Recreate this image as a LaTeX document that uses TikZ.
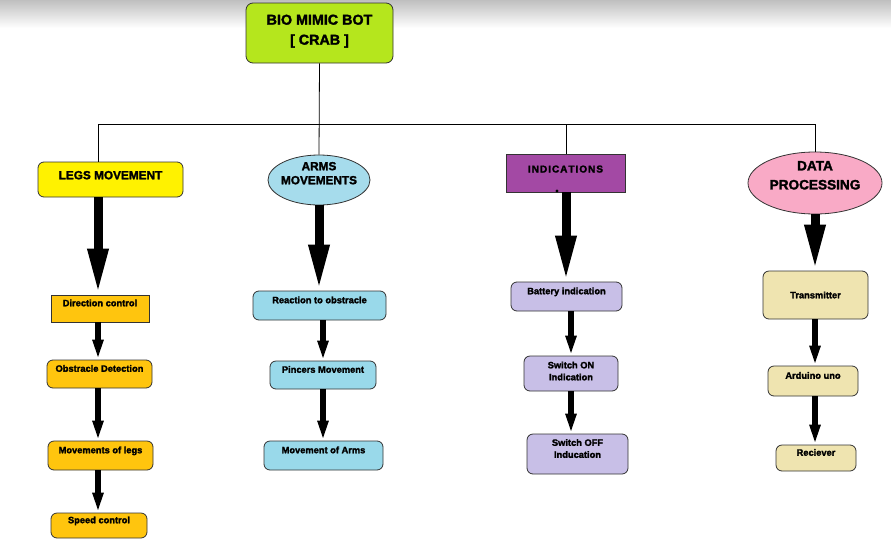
\documentclass[tikz,border=0pt]{standalone}
\usepackage{fontspec}
\setmainfont{Liberation Sans}[BoldFeatures={FakeBold=2}]
\usepackage{xcolor}
\usetikzlibrary{shapes.geometric, arrows.meta}

\definecolor{limebox}{HTML}{B5E61D}
\definecolor{legyellow}{HTML}{FFF200}
\definecolor{armblue}{HTML}{A6DCEC}
\definecolor{childblue}{HTML}{99D9EA}
\definecolor{indpurple}{HTML}{A349A4}
\definecolor{datapink}{HTML}{F9AAC6}
\definecolor{legorange}{HTML}{FFC50E}
\definecolor{indlav}{HTML}{C8BFE7}
\definecolor{databeige}{HTML}{EFE4B0}

\begin{document}
\begin{tikzpicture}[x=1pt,y=-1pt,
    box/.style={draw=black!80, line width=0.8pt, inner sep=2pt, font=\bfseries\fontsize{9.3}{12}\selectfont, align=center},
    head/.style={box, font=\bfseries\fontsize{11.8}{14}\selectfont},
    raised/.style={text height=7pt, text depth=11.5pt},
    bigarrow/.style={line width=9pt, -{Triangle[width=19pt,length=46pt]}},
    smallarrow/.style={line width=5.5pt, -{Triangle[width=10pt,length=20pt]}}]
    \useasboundingbox (0,0) rectangle (891,557);
    \shade[top color=black!25, bottom color=white] (0,0) rectangle (891,28);

    % root
    \node[head, fill=limebox, rounded corners=7pt, minimum width=147pt, minimum height=60pt,
        text height=30.3pt, text depth=7pt,
        font=\bfseries\fontsize{14.3}{20}\selectfont] (bot) at (319.5,33) {BIO MIMIC BOT\\{[} CRAB ]};

    % headings
    \node[head, fill=legyellow, rounded corners=6pt, minimum width=145pt, minimum height=35pt,
        text height=8.5pt, text depth=9pt] (legs) at (110.5,179.5) {LEGS MOVEMENT};
    \node[head, ellipse, fill=armblue, inner xsep=-2pt, inner ysep=-1pt, minimum width=102pt, minimum height=50pt,
        text height=22.5pt, text depth=14pt] (arms) at (319,180) {ARMS\\MOVEMENTS};
    \node[head, fill=indpurple, minimum width=119pt, minimum height=38pt, text height=8pt, text depth=9pt,
        font=\bfseries\fontsize{10}{12}\selectfont] (ind) at (565.5,173) {I\kern1ptN\kern1ptD\kern1ptI\kern1ptC\kern1ptA\kern1ptT\kern1ptI\kern1ptO\kern1ptN\kern1ptS};
    \node[head, ellipse, fill=datapink, inner xsep=0pt, inner ysep=-1pt, minimum width=134pt, minimum height=62pt,
        text height=28.8pt, text depth=16pt,
        font=\bfseries\fontsize{13.6}{19}\selectfont] (data) at (815,183) {DATA\\PROCESSING};
    \fill (557,191) circle (1.6pt);

    % tree lines
    \coordinate (jl) at (98,124);
    \coordinate (ji) at (566,124);
    \coordinate (jd) at (815,124);
    \draw[line width=0.8pt] (bot.south) -- (arms.north);
    \draw[line width=0.8pt] (jl) -- (jd);
    \draw[line width=0.8pt] (jl) -- (jl |- legs.north);
    \draw[line width=0.8pt] (ji) -- (ji |- ind.north);
    \draw[line width=0.8pt] (jd) -- (data.north);

    % legs column
    \node[box, raised, fill=legorange, minimum width=98pt, minimum height=27pt] (dir) at (100,308.5) {Direction control};
    \node[box, raised, fill=legorange, rounded corners=6pt, minimum width=105pt, minimum height=28pt] (obs) at (99.5,374) {Obstracle Detection};
    \node[box, raised, fill=legorange, rounded corners=6pt, minimum width=105pt, minimum height=29pt] (mleg) at (100.5,455.5) {Movements of legs};
    \node[box, raised, fill=legorange, rounded corners=6pt, minimum width=96pt, minimum height=25pt] (speed) at (99,525.5) {Speed control};

    % arms column
    \node[box, raised, fill=childblue, rounded corners=6pt, minimum width=133pt, minimum height=29pt] (react) at (319.5,305.5) {Reaction to obstracle};
    \node[box, raised, fill=childblue, rounded corners=6pt, minimum width=106pt, minimum height=28pt] (pinc) at (323,375) {Pincers Movement};
    \node[box, raised, fill=childblue, rounded corners=6pt, minimum width=119pt, minimum height=29pt] (marm) at (323.5,455.5) {Movement of Arms};

    % indications column
    \node[box, raised, fill=indlav, rounded corners=6pt, minimum width=111pt, minimum height=29pt] (batt) at (566.5,296.5) {Battery indication};
    \node[box, fill=indlav, rounded corners=6pt, minimum width=94pt, minimum height=35pt,
        text height=18.7pt, text depth=5pt] (son) at (571,373.5) {Switch ON\\Indication};
    \node[box, fill=indlav, rounded corners=6pt, minimum width=101pt, minimum height=40pt,
        text height=18.7pt, text depth=11pt] (soff) at (577.5,454) {Switch OFF\\Inducation};

    % data column
    \node[box, fill=databeige, rounded corners=6pt, minimum width=105pt, minimum height=48pt] (trans) at (815.5,295) {Transmitter};
    \node[box, raised, fill=databeige, rounded corners=6pt, minimum width=90pt, minimum height=30pt] (ard) at (813,381) {Arduino uno};
    \node[box, raised, fill=databeige, rounded corners=6pt, minimum width=80pt, minimum height=26pt] (rec) at (816,458) {Reciever};

    % arrows
    \draw[bigarrow] (legs.south -| jl) -- (dir.north -| jl);
    \draw[smallarrow] (dir.south -| jl) -- (obs.north -| jl);
    \draw[smallarrow] (obs.south -| jl) -- (mleg.north -| jl);
    \draw[smallarrow] (mleg.south -| jl) -- (speed.north -| jl);

    \draw[bigarrow] (arms.south) -- (arms.south |- react.north);
    \draw[smallarrow] (pinc.north |- react.south) -- (pinc.north);
    \draw[smallarrow] (pinc.south) -- (pinc.south |- marm.north);

    \draw[bigarrow] (ind.south -| ji) -- (batt.north -| ji);
    \draw[smallarrow] (son.north |- batt.south) -- (son.north);
    \draw[smallarrow] (son.south) -- (son.south |- soff.north);

    \draw[bigarrow] (data.south) -- (data.south |- trans.north);
    \draw[smallarrow] (trans.south -| jd) -- (ard.north -| jd);
    \draw[smallarrow] (ard.south -| jd) -- (rec.north -| jd);
\end{tikzpicture}
\end{document}
